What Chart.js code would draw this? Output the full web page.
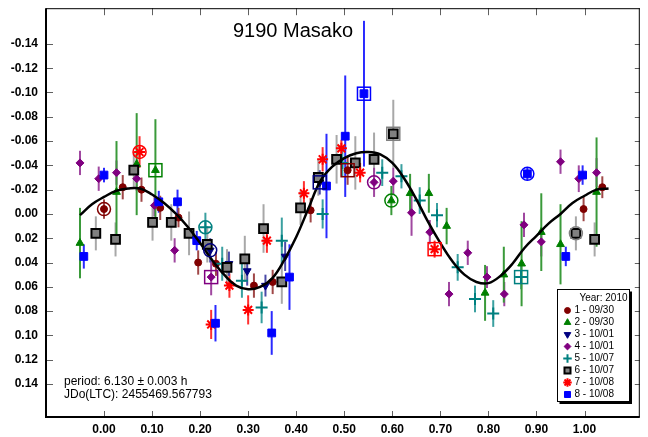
<!DOCTYPE html>
<html>
<head>
<meta charset="utf-8">
<script src="https://cdn.jsdelivr.net/npm/chart.js@4.4.0/dist/chart.umd.min.js"></script>
<style>
  body { margin: 0; background: #fff; }
  canvas { display: block; }
</style>
</head>
<body>
<canvas id="lc" width="648" height="437"></canvas>
<script>
// tick labels
const xTicks = [0, 0.1, 0.2, 0.3, 0.4, 0.5, 0.6, 0.7, 0.8, 0.9, 1.0];
const yTicks = [-0.14, -0.12, -0.10, -0.08, -0.06, -0.04, -0.02, 0, 0.02, 0.04, 0.06, 0.08, 0.10, 0.12, 0.14];

// legend labels
const sessions = ['1 - 09/30', '2 - 09/30', '3 - 10/01', '4 - 10/01', '5 - 10/07', '6 - 10/07', '7 - 10/08', '8 - 10/08'];

// session 1
const s1x = [0.000, 0.039, 0.078, 0.117, 0.155, 0.196, 0.233, 0.312, 0.351, 0.430, 0.507, 0.998, 1.037];
const s1y = [-0.004, -0.022, -0.020, -0.005, 0.003, 0.040, 0.041, 0.059, 0.056, -0.003, -0.036, -0.004, -0.022];
const s1e = [0.008, 0.010, 0.010, 0.010, 0.008, 0.010, 0.010, 0.010, 0.010, 0.010, 0.012, 0.010, 0.009];
// session 2
const s2x = [-0.050, 0.026, 0.068, 0.107, 0.598, 0.637, 0.676, 0.713, 0.793, 0.832, 0.869, 0.910, 0.950, 1.025];
const s2y = [0.024, -0.018, -0.041, -0.036, -0.011, -0.017, -0.017, 0.010, 0.065, 0.050, 0.041, 0.015, 0.025, -0.018];
const s2e = [0.029, 0.042, 0.042, 0.042, 0.012, 0.016, 0.016, 0.015, 0.023, 0.023, 0.035, 0.032, 0.033, 0.045];
// session 3
const s3x = [0.221, 0.260, 0.298, 0.336, 0.377, 0.449];
const s3y = [0.030, 0.041, 0.047, 0.059, 0.035, -0.026];
const s3e = [0.010, 0.010, 0.012, 0.009, 0.012, 0.010];
// session 4
const s4x = [-0.050, -0.011, 0.026, 0.068, 0.105, 0.147, 0.223, 0.562, 0.602, 0.640, 0.678, 0.718, 0.757, 0.797, 0.833, 0.874, 0.910, 0.950, 0.988, 1.025];
const s4y = [-0.042, -0.029, -0.034, -0.029, -0.007, 0.030, 0.052, -0.026, -0.027, -0.001, 0.015, 0.066, 0.032, 0.052, 0.066, 0.009, 0.023, -0.043, -0.029, -0.034];
const s4e = [0.010, 0.010, 0.010, 0.010, 0.009, 0.010, 0.015, 0.012, 0.011, 0.019, 0.010, 0.010, 0.010, 0.009, 0.010, 0.010, 0.012, 0.010, 0.011, 0.012];
// session 5
const s5x = [0.211, 0.246, 0.287, 0.328, 0.370, 0.455, 0.496, 0.579, 0.619, 0.657, 0.693, 0.736, 0.772, 0.810, 0.868];
const s5y = [0.011, 0.041, 0.055, 0.077, 0.022, 0.000, -0.042, -0.034, -0.031, -0.011, 0.001, 0.044, 0.070, 0.082, 0.052];
const s5e = [0.012, 0.014, 0.014, 0.013, 0.019, 0.012, 0.011, 0.011, 0.010, 0.011, 0.010, 0.011, 0.011, 0.011, 0.010];
// session 6
const s6x = [-0.017, 0.024, 0.062, 0.101, 0.140, 0.177, 0.215, 0.256, 0.293, 0.332, 0.370, 0.409, 0.446, 0.484, 0.523, 0.562, 0.602, 0.982, 1.021];
const s6y = [0.016, 0.021, -0.036, 0.007, 0.007, 0.016, 0.025, 0.044, 0.037, 0.012, 0.056, -0.005, -0.030, -0.045, -0.042, -0.045, -0.066, 0.016, 0.021];
const s6e = [0.014, 0.014, 0.015, 0.015, 0.015, 0.018, 0.015, 0.015, 0.019, 0.020, 0.018, 0.014, 0.015, 0.020, 0.022, 0.022, 0.028, 0.014, 0.014];
// session 7
const s7x = [0.074, 0.223, 0.261, 0.300, 0.339, 0.416, 0.455, 0.494, 0.533, 0.688];
const s7y = [-0.051, 0.091, 0.059, 0.079, 0.022, -0.017, -0.045, -0.054, -0.034, 0.029];
const s7e = [0.013, 0.012, 0.010, 0.012, 0.010, 0.010, 0.010, 0.007, 0.008, 0.007];
// session 8
const s8x = [-0.042, 0.000, 0.114, 0.153, 0.193, 0.232, 0.349, 0.386, 0.463, 0.502, 0.541, 0.881, 0.961, 0.996];
const s8y = [0.035, -0.032, -0.010, -0.010, 0.022, 0.090, 0.098, 0.052, -0.023, -0.064, -0.099, -0.033, 0.035, -0.032];
const s8e = [0.010, 0.006, 0.009, 0.010, 0.008, 0.015, 0.018, 0.027, 0.043, 0.050, 0.060, 0.005, 0.008, 0.008];

// first / last point of each session (ringed)
const circleIdx = [0, 4, 0, 7, 0, 17, 0, 11];
const squareIdx = [10, 3, 5, 6, 14, 16, 9, 10];

// fit curve
const fitX = [-0.05, -0.025, 0.0, 0.025, 0.05, 0.075, 0.1, 0.125, 0.15, 0.175, 0.2, 0.225, 0.25, 0.275, 0.3, 0.325, 0.35, 0.375, 0.4, 0.425, 0.45, 0.475, 0.5, 0.525, 0.55, 0.575, 0.6, 0.625, 0.65, 0.675, 0.7, 0.725, 0.75, 0.775, 0.8, 0.825, 0.85, 0.875, 0.9, 0.925, 0.95, 0.975, 1.0, 1.025, 1.05];
const fitY = [0.001, -0.008, -0.014, -0.019, -0.021, -0.021, -0.016, -0.009, 0.000, 0.011, 0.024, 0.038, 0.050, 0.059, 0.062, 0.060, 0.053, 0.038, 0.019, -0.004, -0.027, -0.039, -0.046, -0.050, -0.051, -0.049, -0.042, -0.029, -0.012, 0.007, 0.024, 0.039, 0.050, 0.056, 0.057, 0.051, 0.041, 0.028, 0.018, 0.008, 0.000, -0.009, -0.015, -0.020, -0.021];

const seriesX = [s1x, s2x, s3x, s4x, s5x, s6x, s7x, s8x];
const seriesY = [s1y, s2y, s3y, s4y, s5y, s6y, s7y, s8y];
const seriesE = [s1e, s2e, s3e, s4e, s5e, s6e, s7e, s8e];

const markColors = ['#800000', '#008000', '#000080', '#800080', '#008080', '#808080', '#ff0000', '#0000ff'];
const barColors = ['#a04848', '#3a9a3a', '#4a4aa8', '#a048a0', '#3aa0a0', '#a8a8a8', '#ff3030', '#2a2aff'];
const styles = [
  { pointStyle: 'circle', radius: 3.5, rotation: 0, borderWidth: 1, fill: '#800000', border: '#800000' },
  { pointStyle: 'triangle', radius: 4.5, rotation: 0, borderWidth: 1, fill: '#008000', border: '#008000' },
  { pointStyle: 'triangle', radius: 4.5, rotation: 180, borderWidth: 1, fill: '#000080', border: '#000080' },
  { pointStyle: 'rectRot', radius: 4, rotation: 0, borderWidth: 1, fill: '#800080', border: '#800080' },
  { pointStyle: 'cross', radius: 6, rotation: 0, borderWidth: 2, fill: '#008080', border: '#008080' },
  { pointStyle: 'rect', radius: 6.2, rotation: 0, borderWidth: 2, fill: '#808080', border: '#000000' },
  { pointStyle: 'star', radius: 5.5, rotation: 0, borderWidth: 2, fill: '#ff0000', border: '#ff0000' },
  { pointStyle: 'rect', radius: 5.5, rotation: 0, borderWidth: 1, fill: '#0000ff', border: '#0000ff' }
];

const datasets = seriesX.map((xs, i) => ({
  type: 'scatter',
  label: sessions[i],
  data: xs.map((x, j) => ({ x: x, y: seriesY[i][j] })),
  pointStyle: styles[i].pointStyle,
  pointRadius: styles[i].radius,
  pointRotation: styles[i].rotation,
  pointBorderWidth: styles[i].borderWidth,
  backgroundColor: styles[i].fill,
  borderColor: styles[i].border,
  order: 8 - i
}));

datasets.push({
  type: 'line',
  label: 'fit',
  data: fitX.map((x, j) => ({ x: x, y: fitY[j] })),
  borderColor: '#000',
  borderWidth: 2.5,
  pointRadius: 0,
  tension: 0.4,
  fill: false,
  order: 0
});

// error bars under the markers
const errorBars = {
  id: 'errorBars',
  beforeDatasetsDraw(chart) {
    const ctx = chart.ctx;
    const ys = chart.scales.y;
    ctx.save();
    ctx.lineWidth = 2;
    for (let i = seriesX.length - 1; i >= 0; i--) {
      const meta = chart.getDatasetMeta(i);
      ctx.strokeStyle = barColors[i];
      meta.data.forEach((pt, j) => {
        const y = seriesY[i][j], e = seriesE[i][j];
        ctx.beginPath();
        ctx.moveTo(pt.x, ys.getPixelForValue(y - e));
        ctx.lineTo(pt.x, ys.getPixelForValue(y + e));
        ctx.stroke();
      });
    }
    ctx.restore();
  },
  afterDatasetsDraw(chart) {
    const ctx = chart.ctx;
    ctx.save();
    ctx.lineWidth = 1.5;
    seriesX.forEach((xs, i) => {
      const meta = chart.getDatasetMeta(i);
      ctx.strokeStyle = markColors[i];
      const c = meta.data[circleIdx[i]];
      ctx.beginPath();
      ctx.arc(c.x, c.y, 6.5, 0, Math.PI * 2);
      ctx.stroke();
      const s = meta.data[squareIdx[i]];
      ctx.strokeRect(s.x - 6.5, s.y - 6.5, 13, 13);
    });
    ctx.restore();
  }
};

// frame, inner ticks, texts, legend
const decorations = {
  id: 'decorations',
  afterDraw(chart) {
    const ctx = chart.ctx;
    const a = chart.chartArea;
    const xs = chart.scales.x, ys = chart.scales.y;
    ctx.save();
    ctx.strokeStyle = '#606060';
    ctx.lineWidth = 1;
    xTicks.forEach(v => {
      const px = Math.round(xs.getPixelForValue(v)) + 0.5;
      ctx.beginPath();
      ctx.moveTo(px, a.bottom); ctx.lineTo(px, a.bottom - 6);
      ctx.moveTo(px, a.top); ctx.lineTo(px, a.top + 7);
      ctx.stroke();
    });
    yTicks.forEach(v => {
      const py = Math.round(ys.getPixelForValue(v)) + 0.5;
      ctx.beginPath();
      ctx.moveTo(a.left, py); ctx.lineTo(a.left + 7, py);
      ctx.moveTo(a.right, py); ctx.lineTo(a.right - 5, py);
      ctx.stroke();
    });

    ctx.strokeStyle = '#000';
    ctx.lineWidth = 1;
    ctx.beginPath();
    ctx.moveTo(a.left, a.top + 0.5); ctx.lineTo(a.right, a.top + 0.5);
    ctx.moveTo(a.right - 0.5, a.top); ctx.lineTo(a.right - 0.5, a.bottom);
    ctx.stroke();
    ctx.lineWidth = 2;
    ctx.beginPath();
    ctx.moveTo(a.left, a.top); ctx.lineTo(a.left, a.bottom);
    ctx.lineTo(a.right, a.bottom);
    ctx.stroke();

    ctx.fillStyle = '#000';
    ctx.textAlign = 'center';
    ctx.textBaseline = 'middle';
    ctx.font = '20px Arial, "Liberation Sans", sans-serif';
    ctx.fillText('9190 Masako', 293, 31);
    ctx.textAlign = 'left';
    ctx.font = '12px Arial, "Liberation Sans", sans-serif';
    ctx.fillText('period: 6.130 \u00b1 0.003 h', 64, 382);
    ctx.fillText('JDo(LTC): 2455469.567793', 64, 395);

    // legend box
    const bx = 557.5, by = 289.5, bw = 72, bh = 112;
    ctx.fillStyle = '#fff';
    ctx.fillRect(bx, by, bw, bh);
    ctx.strokeStyle = '#000';
    ctx.lineWidth = 1;
    ctx.strokeRect(bx, by, bw, bh);
    ctx.lineWidth = 2;
    ctx.beginPath();
    ctx.moveTo(bx + bw + 1.5, by + 2); ctx.lineTo(bx + bw + 1.5, by + bh + 1.5);
    ctx.lineTo(bx + 2, by + bh + 1.5);
    ctx.stroke();

    ctx.fillStyle = '#000';
    ctx.font = '10px Arial, "Liberation Sans", sans-serif';
    ctx.textAlign = 'right';
    ctx.fillText('Year: 2010', bx + bw - 2, by + 9);
    ctx.textAlign = 'left';
    sessions.forEach((lab, i) => {
      const ly = by + 21 + i * 12;
      const st = styles[i];
      ctx.fillStyle = st.fill;
      ctx.strokeStyle = st.border;
      ctx.lineWidth = st.borderWidth;
      Chart.helpers.drawPoint(ctx, {
        pointStyle: st.pointStyle,
        rotation: st.rotation,
        radius: Math.min(st.radius, 5) * 0.85,
        borderWidth: st.borderWidth
      }, bx + 10, ly);
      ctx.fillStyle = '#000';
      ctx.fillText(lab, bx + 17, ly);
    });
    ctx.restore();
  }
};

const tickFont = { family: 'Arial, "Liberation Sans", sans-serif', size: 12, weight: 'bold' };

new Chart(document.getElementById('lc'), {
  type: 'scatter',
  data: { datasets: datasets },
  options: {
    responsive: false,
    animation: false,
    layout: { padding: { left: 0, right: 6, top: 7, bottom: 0 } },
    plugins: { legend: { display: false }, tooltip: { enabled: false } },
    scales: {
      x: {
        type: 'linear',
        min: -0.1207,
        max: 1.115,
        afterFit: s => {
          s.height = 20;
          s.paddingLeft = 0; s.paddingRight = 0; s.paddingTop = 0; s.paddingBottom = 0;
        },
        afterBuildTicks: s => { s.ticks = xTicks.map(v => ({ value: v })); },
        grid: { display: false, drawTicks: false },
        border: { display: false },
        ticks: { color: '#000', font: tickFont, padding: 5, maxRotation: 0, autoSkip: false, callback: v => v.toFixed(2) }
      },
      y: {
        type: 'linear',
        reverse: true,
        min: -0.1694,
        max: 0.1672,
        afterFit: s => {
          s.width = 46;
          s.paddingLeft = 0; s.paddingRight = 0; s.paddingTop = 0; s.paddingBottom = 0;
        },
        afterBuildTicks: s => { s.ticks = yTicks.map(v => ({ value: v })); },
        grid: { display: false, drawTicks: false },
        border: { display: false },
        ticks: { color: '#000', font: tickFont, padding: 8, autoSkip: false, callback: v => (Math.abs(v) < 1e-9 ? 0 : v).toFixed(2) }
      }
    }
  },
  plugins: [errorBars, decorations]
});
</script>
</body>
</html>
